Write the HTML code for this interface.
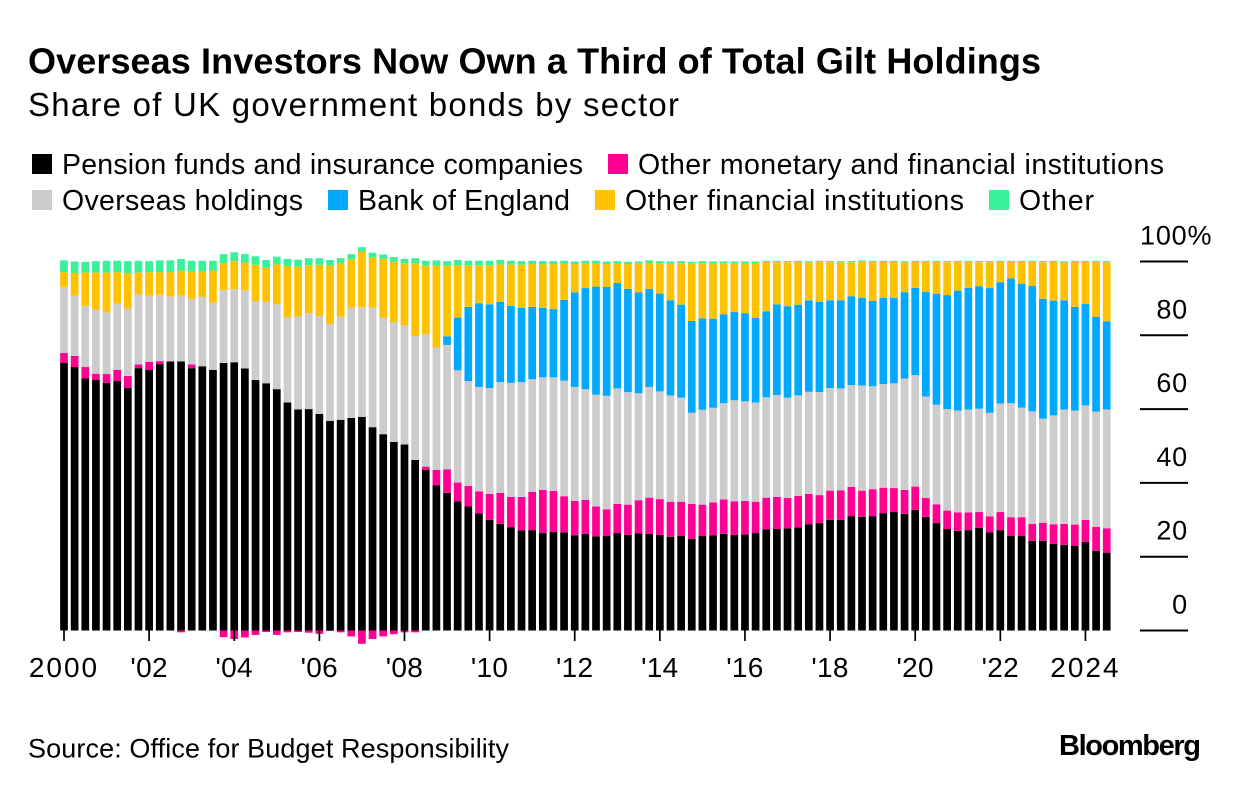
<!DOCTYPE html>
<html lang="en">
<head>
<meta charset="utf-8">
<title>Overseas Investors Now Own a Third of Total Gilt Holdings</title>
<style>
html,body{margin:0;padding:0;background:#fff;}
svg{display:block;}
text{font-family:"Liberation Sans",sans-serif;fill:#000;}
</style>
</head>
<body>
<svg id="chart" xmlns="http://www.w3.org/2000/svg" width="1240" height="790" viewBox="0 0 1240 790">
  <text x="28" y="73.5" font-size="36" font-weight="700" textLength="1013" lengthAdjust="spacing">Overseas Investors Now Own a Third of Total Gilt Holdings</text>
  <text x="28" y="116" font-size="33" textLength="651" lengthAdjust="spacing">Share of UK government bonds by sector</text>

  <g>
    <g>
      <rect x="32" y="154" width="20" height="20" fill="#000000"/>
      <text x="62" y="174" font-size="28.5" textLength="521" lengthAdjust="spacing">Pension funds and insurance companies</text>
    </g>
    <g>
      <rect x="608" y="154" width="20" height="20" fill="#ff0093"/>
      <text x="638" y="174" font-size="28.5" textLength="526" lengthAdjust="spacing">Other monetary and financial institutions</text>
    </g>
    <g>
      <rect x="32" y="190" width="20" height="20" fill="#cccccc"/>
      <text x="62" y="210" font-size="28.5" textLength="241" lengthAdjust="spacing">Overseas holdings</text>
    </g>
    <g>
      <rect x="328" y="190" width="20" height="20" fill="#00a9ff"/>
      <text x="358" y="210" font-size="28.5" textLength="212" lengthAdjust="spacing">Bank of England</text>
    </g>
    <g>
      <rect x="595" y="190" width="20" height="20" fill="#ffc100"/>
      <text x="625" y="210" font-size="28.5" textLength="339" lengthAdjust="spacing">Other financial institutions</text>
    </g>
    <g>
      <rect x="989" y="190" width="20" height="20" fill="#3af09a"/>
      <text x="1019" y="210" font-size="28.5" textLength="75" lengthAdjust="spacing">Other</text>
    </g>
  </g>

  <g id="bars"></g>
  <g id="xaxis"></g>
  <g id="yaxis"></g>

  <text x="28" y="757.5" font-size="27" textLength="481" lengthAdjust="spacing">Source: Office for Budget Responsibility</text>
  <text x="1059" y="755" font-size="29" font-weight="700" textLength="142" lengthAdjust="spacing">Bloomberg</text>
</svg>

<script>
var pension = [72.5,71.4,68.3,67.9,67.1,67.6,65.7,71.1,70.6,72.2,72.9,72.9,71.1,71.6,70.6,72.5,72.7,71.0,67.9,67.0,65.4,61.8,59.9,60.0,58.7,56.8,57.1,57.6,57.9,55.1,53.2,51.1,50.4,46.2,43.5,39.3,37.3,35.0,33.6,31.7,30.0,28.9,28.0,27.1,27.2,26.4,26.7,26.6,25.8,26.2,25.5,25.6,26.4,25.9,26.3,26.2,25.9,25.4,25.6,24.8,25.6,25.8,26.2,25.9,26.0,26.4,27.4,27.5,27.7,27.9,28.8,29.1,30.0,30.0,31.0,30.8,31.0,31.8,32.1,31.6,32.7,30.8,29.1,27.5,27.0,27.2,27.8,26.6,27.2,25.6,25.6,24.3,24.3,23.5,23.2,22.9,24.0,21.6,21.1];
var otherMonetary = [2.7,3.0,3.1,1.7,2.4,3.0,3.3,1.0,2.2,0.8,0,-0.5,1.0,0,0,-1.8,-2.3,-1.9,-1.2,-0.4,-1.2,-0.5,-0.4,-0.6,-0.9,-0.1,-0.5,-1.6,-3.6,-2.3,-1.6,-1.0,-0.5,-0.5,0.9,4.2,6.4,5.1,5.6,6.0,7.0,8.4,8.2,9.1,10.4,11.7,11.1,9.8,9.3,9.2,8.1,7.2,7.9,8.2,9.0,9.8,9.7,9.5,9.3,9.5,8.5,8.9,9.3,9.1,9.1,8.5,8.6,8.7,8.2,8.6,8.2,7.6,7.9,8.0,7.9,7.1,7.3,6.9,6.5,6.5,6.3,5.1,5.1,5.0,5.0,4.8,4.3,4.3,4.9,5.1,5.1,4.6,4.9,5.3,5.7,5.8,6.0,6.5,6.6];
var overseas = [17.8,16.3,16.6,17.4,16.7,18.0,18.2,19.0,17.9,18.0,17.6,17.9,17.7,18.8,18.2,19.7,19.8,21.2,21.4,22.1,23.0,23.1,25.2,26.0,26.5,26.3,27.9,29.9,29.7,32.4,31.6,32.4,32.3,33.6,35.9,33.2,33.7,30.4,28.4,28.3,28.7,30.0,30.9,31.1,30.5,30.5,30.8,31.3,30.9,30.0,30.3,30.8,31.3,30.5,29.0,30.0,29.2,28.8,28.2,24.7,25.7,25.7,26.1,27.4,27.0,26.9,27.2,27.6,27.2,27.2,27.7,27.9,27.8,27.6,27.6,28.5,27.9,28.1,28.4,30.2,30.2,27.5,27.0,27.5,27.6,27.9,28.0,28.1,29.4,30.9,29.7,30.5,28.2,29.5,31.0,30.9,31.0,31.2,32.2];
var bankOfEngland = [0,0,0,0,0,0,0,0,0,0,0,0,0,0,0,0,0,0,0,0,0,0,0,0,0,0,0,0,0,0,0,0,0,0,0,0,2.3,14.3,20.1,22.7,22.7,21.8,20.9,20.1,19.6,18.8,18.5,21.9,25.6,27.4,29.3,29.5,28.6,28.0,27.3,26.6,26.5,25.8,25.2,24.9,24.8,24.1,24.1,23.9,23.9,22.9,23.3,24.6,24.8,24.6,24.8,24.5,23.8,23.9,24.1,23.8,23.1,23.3,23.1,23.4,23.7,28.4,30.0,30.9,32.5,33.0,33.2,33.8,32.9,33.8,33.6,34.0,32.5,31.1,29.6,28.1,27.5,25.7,23.9];
var otherFinancial = [4.1,6.2,9.0,10.0,10.8,8.5,9.6,5.9,6.4,6.1,6.6,6.7,7.5,6.9,8.7,7.3,7.6,7.5,9.8,9.2,10.8,13.9,13.5,13.0,13.9,15.8,14.5,13.1,15.1,13.6,15.9,16.4,16.8,19.7,18.6,22.2,19.2,14.2,11.3,10.3,10.6,10.1,11.2,11.7,11.6,11.8,12.2,9.8,7.7,6.6,6.2,6.2,5.2,6.7,7.8,7.0,8.2,9.9,11.2,15.5,15.0,15.0,13.8,13.2,13.5,14.9,13.4,11.5,11.9,11.6,10.3,10.8,10.3,10.3,9.2,9.8,10.6,9.8,9.8,8.1,7.0,8.1,8.7,8.9,7.8,7.0,6.5,7.0,5.5,4.5,5.9,6.5,9.9,10.5,10.3,12.2,11.4,14.9,16.0];
var other = [3.2,3.1,2.9,3.1,3.2,3.1,3.3,3.2,3.0,3.2,3.2,3.2,2.9,2.9,2.7,2.5,2.4,2.3,2.3,2.1,2.1,1.9,1.9,1.9,1.8,1.5,1.4,1.4,1.2,1.3,1.2,1.3,1.2,1.4,1.3,1.4,1.2,1.4,1.2,1.2,1.2,1.2,1.0,1.0,0.9,0.9,0.8,0.8,0.7,0.8,0.8,0.7,0.7,0.6,0.6,0.7,0.6,0.6,0.6,0.5,0.5,0.5,0.5,0.5,0.5,0.4,0.3,0.3,0.3,0.3,0.3,0.3,0.3,0.3,0.3,0.3,0.3,0.3,0.3,0.3,0.3,0.3,0.3,0.3,0.3,0.3,0.3,0.3,0.3,0.3,0.3,0.3,0.3,0.3,0.3,0.3,0.3,0.3,0.3];
var tickYears = [2000,2002,2004,2006,2008,2010,2012,2014,2016,2018,2020,2022,2024];
var xTickLabels = ["2000","'02","'04","'06","'08","'10","'12","'14","'16","'18","'20","'22","2024"];
var yTickValues = [0,20,40,60,80,100];
var yTickLabels = ["0","20","40","60","80","100%"];

var NS = "http://www.w3.org/2000/svg";
var STEP = 10.64, BAR_W = 7.7, X0 = 64, Y0 = 630.5, Y_UNIT = 3.69;
function xScale(q){ return X0 + q * STEP; }
function xYear(year){ return xScale((year - 2000) * 4); }
function yScale(v){ return Y0 - v * Y_UNIT; }

var stackOrder = [
  {key:"pension", values:pension, color:"#000000"},
  {key:"other-monetary", values:otherMonetary, color:"#ff0093"},
  {key:"overseas", values:overseas, color:"#cccccc"},
  {key:"bank-of-england", values:bankOfEngland, color:"#00a9ff"},
  {key:"other-financial", values:otherFinancial, color:"#ffc100"},
  {key:"other", values:other, color:"#3af09a"}
];

var barsGroup = document.getElementById("bars");
for (var i = 0; i < pension.length; i++) {
  var pos = 0, neg = 0;
  for (var s = 0; s < stackOrder.length; s++) {
    var val = stackOrder[s].values[i];
    if (!val) continue;
    var lo, hi;
    if (val >= 0) { lo = pos; hi = pos + val; pos = hi; }
    else { hi = neg; lo = neg + val; neg = lo; }
    var r = document.createElementNS(NS, "rect");
    r.setAttribute("x", (xScale(i) - BAR_W / 2).toFixed(2));
    r.setAttribute("y", yScale(hi).toFixed(2));
    r.setAttribute("width", BAR_W);
    r.setAttribute("height", (yScale(lo) - yScale(hi)).toFixed(2));
    r.setAttribute("fill", stackOrder[s].color);
    
    
    barsGroup.appendChild(r);
  }
}

var xGroup = document.getElementById("xaxis");
for (var t = 0; t < tickYears.length; t++) {
  var xx = xYear(tickYears[t]);
  var tick = document.createElementNS(NS, "line");
  tick.setAttribute("x1", xx); tick.setAttribute("x2", xx);
  tick.setAttribute("y1", Y0); tick.setAttribute("y2", 641);
  tick.setAttribute("stroke", "#000"); tick.setAttribute("stroke-width", "1.7");
  
  
  xGroup.appendChild(tick);
  var lab = document.createElementNS(NS, "text");
  lab.setAttribute("x", xx); lab.setAttribute("y", 677);
  lab.setAttribute("text-anchor", "middle");
  lab.setAttribute("font-size", "28");
  lab.setAttribute("letter-spacing", xTickLabels[t].length === 4 ? "2" : "0.3");
  
  
  lab.textContent = xTickLabels[t];
  xGroup.appendChild(lab);
}

var yGroup = document.getElementById("yaxis");
for (var k = 0; k < yTickValues.length; k++) {
  var yy = yScale(yTickValues[k]);
  var gl = document.createElementNS(NS, "line");
  gl.setAttribute("x1", 1140); gl.setAttribute("x2", 1188);
  gl.setAttribute("y1", yy); gl.setAttribute("y2", yy);
  gl.setAttribute("stroke", "#000"); gl.setAttribute("stroke-width", "2");
  
  
  yGroup.appendChild(gl);
  var yl = document.createElementNS(NS, "text");
  yl.setAttribute("y", yy - 17);
  yl.setAttribute("font-size", "27");
  yl.setAttribute("letter-spacing", "0.8");
  if (yTickLabels[k].indexOf("%") >= 0) {
    yl.setAttribute("x", 1140);
  } else {
    yl.setAttribute("x", 1188);
    yl.setAttribute("text-anchor", "end");
  }
  
  
  yl.textContent = yTickLabels[k];
  yGroup.appendChild(yl);
}
</script>
</body>
</html>
